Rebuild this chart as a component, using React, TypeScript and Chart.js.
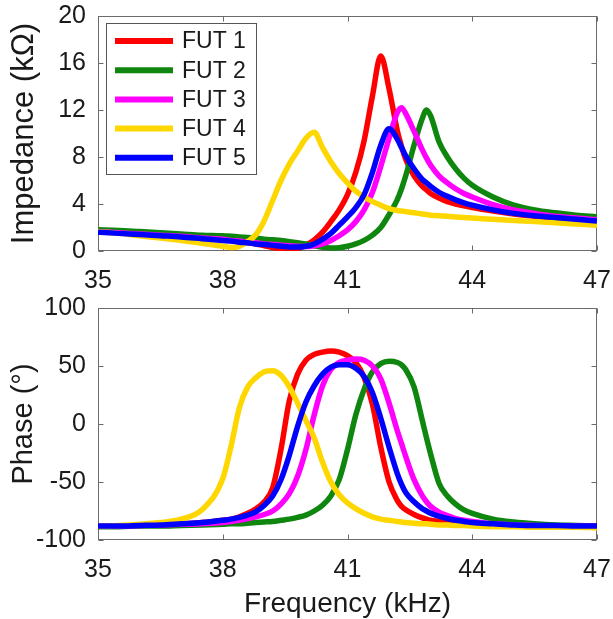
import React, { useEffect, useRef } from 'react';
import { Chart, registerables } from 'chart.js';

Chart.register(...registerables);

// Frequency grid (kHz)
const freqKHz = [
  35, 35.5, 36, 36.5, 37, 37.5, 38, 38.2, 38.4, 38.6, 38.8, 39, 39.2, 39.4, 39.6, 39.8,
  40, 40.2, 40.4, 40.6, 40.8, 41, 41.2, 41.4, 41.6, 41.8, 42, 42.2, 42.3, 42.4, 42.6, 42.8,
  42.9, 43, 43.2, 43.4, 43.6, 43.8, 44, 44.5, 45, 45.5, 46, 46.5, 47,
];

const seriesLabels = ['FUT 1', 'FUT 2', 'FUT 3', 'FUT 4', 'FUT 5'];
const seriesColors = ['#FF0000', '#0F870F', '#FF00FF', '#FFD700', '#0000FF'];

// Impedance (kOhm)
const impFUT1 = [1.75, 1.65, 1.55, 1.45, 1.3, 1.15, 1.0, 0.9, 0.8, 0.7, 0.6, 0.45, 0.3, 0.15, 0.08, 0.2,
  0.5, 0.95, 1.6, 2.5, 3.5, 4.8, 6.7, 9.4, 13.2, 16.6, 13.8, 10.2, 8.9, 7.8, 6.4, 5.5,
  5.2, 4.9, 4.5, 4.2, 4.0, 3.85, 3.7, 3.4, 3.15, 2.95, 2.8, 2.7, 2.6];
const impFUT2 = [1.8, 1.75, 1.65, 1.55, 1.45, 1.35, 1.3, 1.25, 1.2, 1.15, 1.1, 1.0, 0.95, 0.9, 0.8, 0.7,
  0.6, 0.45, 0.32, 0.25, 0.28, 0.4, 0.6, 0.9, 1.35, 2.0, 3.1, 4.4, 5.3, 6.4, 9.0, 11.3,
  12.0, 11.5, 9.3, 8.0, 7.0, 6.2, 5.6, 4.6, 3.9, 3.5, 3.25, 3.05, 2.9];
const impFUT3 = [1.65, 1.55, 1.45, 1.35, 1.25, 1.1, 1.0, 0.9, 0.85, 0.75, 0.7, 0.6, 0.55, 0.5, 0.45, 0.4,
  0.38, 0.45, 0.6, 0.9, 1.3, 1.8, 2.5, 3.5, 5.0, 7.2, 9.6, 11.8, 12.2, 11.7, 10.2, 8.6,
  7.9, 7.3, 6.4, 5.8, 5.3, 4.9, 4.6, 3.95, 3.5, 3.2, 2.95, 2.8, 2.65];
const impFUT4 = [1.65, 1.5, 1.3, 1.1, 0.9, 0.65, 0.4, 0.3, 0.4, 0.8, 1.4, 2.6, 4.3, 6.0, 7.4, 8.5,
  9.6, 10.1, 8.8, 7.6, 6.6, 5.8, 5.1, 4.6, 4.2, 3.9, 3.6, 3.45, 3.4, 3.35, 3.25, 3.15,
  3.1, 3.05, 3.0, 2.95, 2.9, 2.85, 2.8, 2.7, 2.6, 2.5, 2.4, 2.3, 2.2];
const impFUT5 = [1.6, 1.5, 1.4, 1.3, 1.2, 1.05, 0.9, 0.85, 0.75, 0.7, 0.6, 0.55, 0.48, 0.4, 0.35, 0.33,
  0.4, 0.6, 1.0, 1.5, 2.2, 2.9, 3.7, 4.8, 6.7, 9.0, 10.4, 9.5, 8.8, 8.1, 7.0, 6.1,
  5.8, 5.5, 5.0, 4.65, 4.35, 4.1, 3.9, 3.5, 3.2, 3.0, 2.85, 2.7, 2.55];

// Phase (degrees)
const phaseFUT1 = [-88, -88, -87.5, -87, -86, -85, -83, -82, -80, -77, -73, -67, -55, -22, 20, 43,
  55, 60, 62, 63, 62, 59, 53, 40, 17, -20, -50, -66, -71, -74, -78, -81,
  -82, -83, -84, -85, -85.5, -86, -86.5, -87, -87.5, -87.5, -88, -88, -88];
const phaseFUT2 = [-88.5, -88.5, -88, -88, -87.5, -87, -86.5, -86, -86, -85.5, -85, -84.5, -84, -83, -82, -80.5,
  -78.5, -75, -70, -62, -48, -22, 8, 30, 45, 52, 54, 53, 51, 47, 32, 3,
  -12, -26, -51, -62, -69, -74, -77, -82, -84.5, -86, -87, -87.5, -88];
const phaseFUT3 = [-88, -88, -87.5, -87, -86.5, -86, -85, -84, -83, -81.5, -80, -78, -75, -69, -60, -45,
  -22, 8, 33, 47, 53, 55, 56, 55, 50, 39, 18, -6, -17, -28, -48, -62,
  -67, -71, -76, -79, -81.5, -83, -84, -86, -87, -87.5, -88, -88, -88];
const phaseFUT4 = [-88, -87.5, -86.5, -85, -82, -74, -47, -19, 14, 32, 40, 45, 46, 42, 32, 18,
  3, -12, -33, -50, -61, -68, -73, -77, -80, -82, -83, -84, -84.5, -85, -85.5, -86,
  -86, -86.5, -87, -87, -87.5, -87.5, -88, -88.5, -88.5, -89, -89, -89, -89.5];
const phaseFUT5 = [-88, -88, -87.5, -87, -86, -85, -83, -82, -80.5, -78.5, -75.5, -70, -62, -48, -27, -2,
  19, 33, 43, 49, 51, 51, 48, 41, 27, 5, -20, -43, -52, -59, -67, -73,
  -75, -77, -79.5, -81.5, -83, -84, -85, -86, -87, -87.5, -87.5, -88, -88];

const impSeries = [impFUT1, impFUT2, impFUT3, impFUT4, impFUT5];
const phaseSeries = [phaseFUT1, phaseFUT2, phaseFUT3, phaseFUT4, phaseFUT5];

const freqMin = 35;
const freqMax = 47;
const freqStep = 3;
const impMin = 0;
const impMax = 20;
const impStep = 4;
const phaseMin = -100;
const phaseMax = 100;
const phaseStep = 50;

const FONT = '"Liberation Sans", Arial, Helvetica, sans-serif';
const TEXT = '#1a1a1a';

function makeDatasets(series: number[][]) {
  return series.map((vals, i) => ({
    label: seriesLabels[i],
    data: freqKHz.map((f, j) => ({ x: f, y: vals[j] })),
    borderColor: seriesColors[i],
    backgroundColor: seriesColors[i],
    borderWidth: 5.5,
    pointRadius: 0,
    fill: false,
    cubicInterpolationMode: 'monotone' as const,
    order: seriesLabels.length - 1 - i,
  }));
}

const framePlugin = {
  id: 'matlabFrame',
  beforeDatasetsDraw(chart: any) {
    const { ctx, chartArea: a, scales } = chart;
    const L = Math.round(a.left) + 0.5;
    const R = Math.round(a.right) - 0.5;
    const T = Math.round(a.top) + 0.5;
    const B = Math.round(a.bottom) - 0.5;
    ctx.save();
    ctx.strokeStyle = '#6b6b6b';
    ctx.lineWidth = 1;
    ctx.strokeRect(L, T, R - L, B - T);
    const tl = 5;
    ctx.beginPath();
    scales.x.ticks.forEach((t: any) => {
      const px = Math.round(scales.x.getPixelForValue(t.value)) + 0.5;
      ctx.moveTo(px, B); ctx.lineTo(px, B - tl);
      ctx.moveTo(px, T); ctx.lineTo(px, T + tl);
    });
    scales.y.ticks.forEach((t: any) => {
      const py = Math.round(scales.y.getPixelForValue(t.value)) + 0.5;
      ctx.moveTo(L, py); ctx.lineTo(L + tl, py);
      ctx.moveTo(R, py); ctx.lineTo(R - tl, py);
    });
    ctx.stroke();
    ctx.restore();
  },
};

const legendPlugin = {
  id: 'boxLegend',
  afterDatasetsDraw(chart: any) {
    const { ctx } = chart;
    const bx = 106.5, by = 23.5, bw = 150, bh = 151;
    ctx.save();
    ctx.fillStyle = '#ffffff';
    ctx.fillRect(bx, by, bw, bh);
    ctx.strokeStyle = '#555555';
    ctx.lineWidth = 1;
    ctx.strokeRect(bx, by, bw, bh);
    const rowH = 29.2;
    const y0 = 41;
    chart.data.datasets.forEach((ds: any, i: number) => {
      const y = y0 + i * rowH;
      ctx.strokeStyle = ds.borderColor;
      ctx.lineWidth = 6;
      ctx.beginPath();
      ctx.moveTo(115, y);
      ctx.lineTo(173, y);
      ctx.stroke();
      ctx.fillStyle = TEXT;
      ctx.font = `23px ${FONT}`;
      ctx.textAlign = 'left';
      ctx.textBaseline = 'middle';
      ctx.fillText(ds.label, 182, y + 1);
    });
    ctx.restore();
  },
};

function xScale(height: number, withTitle: boolean) {
  return {
    type: 'linear' as const,
    min: freqMin,
    max: freqMax,
    ticks: { stepSize: freqStep, padding: 15, color: TEXT, font: { family: FONT, size: 25 }, maxRotation: 0, autoSkip: false },
    grid: { display: false, drawTicks: false },
    border: { display: false },
    title: withTitle
      ? { display: true, text: 'Frequency (kHz)', color: TEXT, font: { family: FONT, size: 28, lineHeight: 1 }, padding: { top: 0, bottom: 1 } }
      : { display: false },
    afterFit: (s: any) => {
      s.height = height;
      s.paddingLeft = 0;
      s.paddingRight = 0;
    },
  };
}

function yScale(min: number, max: number, step: number, title: string, titleSize: number) {
  return {
    type: 'linear' as const,
    min,
    max,
    ticks: { stepSize: step, padding: 12, color: TEXT, font: { family: FONT, size: 25 } },
    grid: { display: false, drawTicks: false },
    border: { display: false },
    title: { display: true, text: title, color: TEXT, font: { family: FONT, size: titleSize, lineHeight: 1 }, padding: { top: 9, bottom: 0 } },
    afterFit: (s: any) => {
      s.width = 98;
      s.paddingTop = 0;
      s.paddingBottom = 0;
    },
  };
}

export default function App() {
  const topRef = useRef<HTMLCanvasElement>(null);
  const botRef = useRef<HTMLCanvasElement>(null);

  useEffect(() => {
    const top = new Chart(topRef.current as HTMLCanvasElement, {
      type: 'line',
      data: { datasets: makeDatasets(impSeries) as any },
      options: {
        animation: false,
        responsive: true,
        maintainAspectRatio: false,
        layout: { padding: { top: 16, right: 16, left: 0, bottom: 0 } },
        plugins: { legend: { display: false }, tooltip: { enabled: false } },
        scales: {
          x: xScale(39, false) as any,
          y: yScale(impMin, impMax, impStep, 'Impedance (kΩ)', 31) as any,
        },
      },
      plugins: [framePlugin, legendPlugin],
    });
    const bot = new Chart(botRef.current as HTMLCanvasElement, {
      type: 'line',
      data: { datasets: makeDatasets(phaseSeries) as any },
      options: {
        animation: false,
        responsive: true,
        maintainAspectRatio: false,
        layout: { padding: { top: 18, right: 16, left: 0, bottom: 0 } },
        plugins: { legend: { display: false }, tooltip: { enabled: false } },
        scales: {
          x: xScale(79, true) as any,
          y: yScale(phaseMin, phaseMax, phaseStep, 'Phase (°)', 29) as any,
        },
      },
      plugins: [framePlugin],
    });
    return () => {
      top.destroy();
      bot.destroy();
    };
  }, []);

  return (
    <div style={{ position: 'absolute', left: 0, top: 0, width: 613, height: 619, background: '#ffffff' }}>
      <div style={{ position: 'absolute', left: 0, top: 0, width: 613, height: 290 }}>
        <canvas ref={topRef} />
      </div>
      <div style={{ position: 'absolute', left: 0, top: 290, width: 613, height: 329 }}>
        <canvas ref={botRef} />
      </div>
    </div>
  );
}
